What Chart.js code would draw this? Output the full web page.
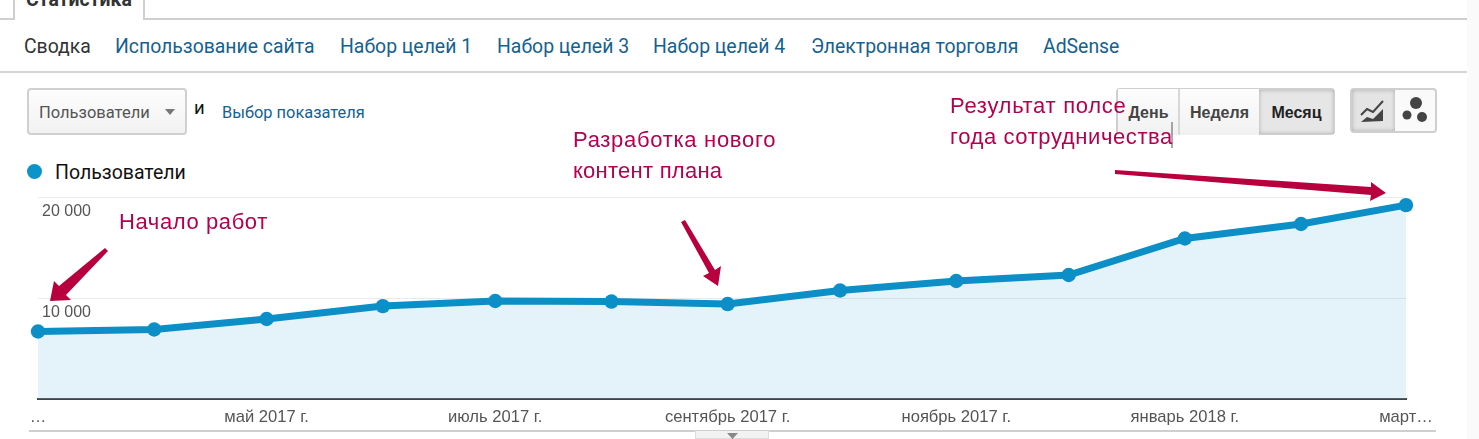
<!DOCTYPE html>
<html lang="ru"><head><meta charset="utf-8">
<script src="https://cdn.jsdelivr.net/npm/chart.js@4"></script>
<style>
html,body{margin:0;padding:0;background:#fff;width:1479px;height:439px;overflow:hidden}
*{box-sizing:border-box}
.a{position:absolute;white-space:nowrap}
#c{position:absolute;left:0;top:0;width:1479px;height:439px}
.nav{font:19.4px Roboto,sans-serif;top:35px;color:#15618f}
.note{font:22px "Liberation Sans",sans-serif;color:#b5004f;letter-spacing:.6px;line-height:31px}
.btn{top:89px;height:46px;font:bold 16px "Liberation Sans",sans-serif;color:#444;text-align:center;line-height:47px;background:linear-gradient(#fdfdfd,#f1f1f1)}
</style></head><body>
<div class="a" style="left:1467px;top:0;width:12px;height:439px;background:#fafafa"></div>
<div class="a" style="left:0;top:18px;width:1467px;height:2px;background:#cfcfcf"></div>
<div class="a" style="left:13px;top:-4px;width:132px;height:24px;background:#fff;border:2px solid #cfcfcf;border-bottom:0"></div>
<div class="a" style="left:26px;top:-12px;font:bold 19.4px Roboto,sans-serif;color:#333">Статистика</div>
<div class="a nav" style="left:24px;color:#333">Сводка</div>
<div class="a nav" style="left:115px">Использование сайта</div>
<div class="a nav" style="left:340px">Набор целей 1</div>
<div class="a nav" style="left:497px">Набор целей 3</div>
<div class="a nav" style="left:653px">Набор целей 4</div>
<div class="a nav" style="left:811px">Электронная торговля</div>
<div class="a nav" style="left:1043px">AdSense</div>
<div class="a" style="left:0;top:71px;width:1467px;height:2px;background:#d4d4d4"></div>
<div class="a" style="left:27px;top:88px;width:160px;height:47px;border:2px solid #d0d0d0;border-radius:4px;background:linear-gradient(#fdfdfd,#f2f2f2);font:16.5px Roboto,sans-serif;color:#555;line-height:46px;padding-left:10px">Пользователи</div>
<div class="a" style="left:165px;top:109px;width:0;height:0;border-left:5px solid transparent;border-right:5px solid transparent;border-top:6px solid #777"></div>
<div class="a" style="left:194px;top:97px;font:18.5px Roboto,sans-serif;color:#111">и</div>
<div class="a" style="left:222px;top:103px;font:16.4px Roboto,sans-serif;color:#15618f">Выбор показателя</div>
<div class="a" style="left:27px;top:164px;width:15px;height:15px;border-radius:50%;background:#0b94ca"></div>
<div class="a" style="left:55px;top:161px;font:19.5px Roboto,sans-serif;color:#111">Пользователи</div>

<div class="a" style="left:1116px;top:88px;width:219px;height:47px;border:2px solid #cfcfcf;border-radius:4px;background:#f5f5f5"></div>
<div class="a btn" style="left:1118px;width:61px">День</div>
<div class="a" style="left:1178px;top:89px;width:2px;height:45px;background:#d8d8d8"></div>
<div class="a btn" style="left:1180px;width:79px">Неделя</div>
<div class="a btn" style="left:1259px;width:75px;top:90px;height:44px;background:#e6e6e6;color:#222;box-shadow:inset 0 0 4px #aaa;line-height:45px">Месяц</div>
<div class="a" style="left:1350px;top:88px;width:87px;height:45px;border:2px solid #cfcfcf;border-radius:4px;background:#fafafa"></div>
<div class="a" style="left:1352px;top:90px;width:43px;height:41px;background:#e4e4e4;box-shadow:inset 0 0 4px #aaa"></div>

<canvas id="c" width="1479" height="439"></canvas>

<svg class="a" style="left:0;top:0" width="1479" height="439">
<path d="M1361 115 L1367 109 L1373 112 L1383 101" fill="none" stroke="#444" stroke-width="2"/>
<path d="M1361 122 L1367 117 L1373 119 L1383 109 L1383 121 Z" fill="#444"/>
<circle cx="1416" cy="103" r="6" fill="#444"/><circle cx="1407" cy="115" r="4.5" fill="#444"/><circle cx="1422" cy="117" r="5" fill="#444"/>
<g fill="#b8003f">
<path d="M105 248 L108 251 L66 295 L71 300 L50 301 L54 281 L59 286 Z"/>
<path d="M681 222 L685 220 L715 270 L721 266 L718 286 L703 276 L709 273 Z"/>
<path d="M1115 170 L1371 187 L1371 182 L1386 193 L1370 201 L1371 195 L1115 174 Z"/>
</g>
<path d="M1172 122 V148" stroke="#555" stroke-width="1"/>
</svg>

<div class="a note" style="left:119px;top:206px">Начало работ</div>
<div class="a note" style="left:573px;top:124px;letter-spacing:.7px">Разработка нового</div>
<div class="a note" style="left:573px;top:155px;letter-spacing:.25px">контент плана</div>
<div class="a note" style="left:950px;top:90px;letter-spacing:.7px">Результат полсе</div>
<div class="a note" style="left:950px;top:121px;letter-spacing:.6px">года сотрудничества</div>

<div class="a" style="left:29px;top:430px;width:1407px;height:2px;background:#cfcfcf"></div>
<div class="a" style="left:695px;top:431px;width:74px;height:8px;border:1px solid #ddd;border-top:0;background:#f2f2f2"></div>
<svg class="a" style="left:0;top:0" width="1479" height="439"><path d="M727 433 L738 433 L732.5 439 Z" fill="#888"/></svg>

<script>
const seriesName = "Пользователи";
const dayOffsets = [0,31,61,92,122,153,184,214,245,275,306,337,365];
const users = [6680,6880,7920,9200,9700,9650,9400,10740,11680,12280,15890,17330,19200];
const xTickDays = [0,61,122,184,245,306,365];
const xTickLabels = ["…","май 2017 г.","июль 2017 г.","сентябрь 2017 г.","ноябрь 2017 г.","январь 2018 г.","март…"];
const yTicks = [0,10000,20000];
const yTickLabels = ["","10 000","20 000"];

new Chart(document.getElementById('c'),{
  type:'line',
  data:{datasets:[{
    label:seriesName,
    data:dayOffsets.map((d,i)=>({x:d,y:users[i]})),
    borderColor:'#0b8fc6',borderWidth:7,
    backgroundColor:'rgba(130,195,228,.22)',fill:'origin',
    pointRadius:7.2,pointBackgroundColor:'#0b8fc6',pointBorderWidth:0,
    tension:0,clip:false
  }]},
  options:{
    responsive:false,animation:false,
    layout:{padding:{left:38,right:73,top:197,bottom:0}},
    plugins:{legend:{display:false},tooltip:{enabled:false}},
    scales:{
      x:{type:'linear',min:0,max:365,
        afterBuildTicks:a=>{a.ticks=xTickDays.map(v=>({value:v}))},
        afterFit:a=>{a.height=40},
        border:{color:'#444',width:2},
        grid:{display:false,drawTicks:false},
        ticks:{autoSkip:false,maxRotation:0,padding:8,color:'#555',font:{family:'"Liberation Sans"',size:16.6},
          callback:v=>xTickLabels[xTickDays.indexOf(v)]??''}
      },
      y:{min:0,max:20000,
        afterBuildTicks:a=>{a.ticks=yTicks.map(v=>({value:v}))},
        afterFit:a=>{a.width=0},
        border:{display:false},
        grid:{color:'#eaeaea',lineWidth:1,drawTicks:false},
        ticks:{mirror:true,padding:4,labelOffset:14.5,z:1,color:'#555',font:{family:'"Liberation Sans"',size:16},
          callback:v=>yTickLabels[yTicks.indexOf(v)]??''}
      }
    }
  }
});
</script>
</body></html>
